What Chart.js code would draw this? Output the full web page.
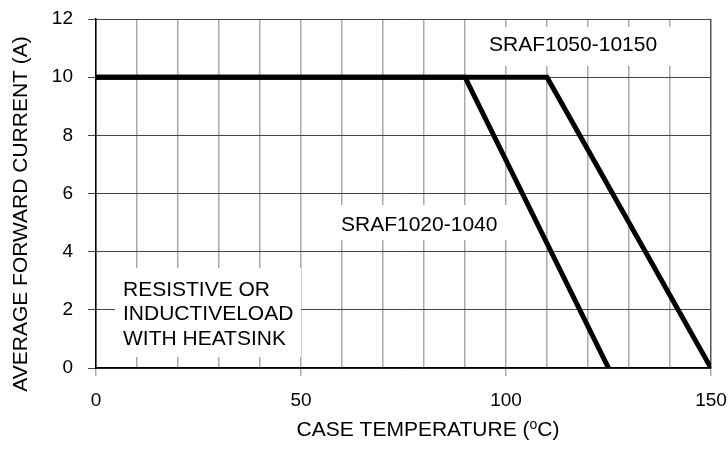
<!DOCTYPE html>
<html>
<head>
<meta charset="utf-8">
<script src="https://cdn.jsdelivr.net/npm/chart.js@4/dist/chart.umd.min.js"></script>
<style>
  html, body { margin: 0; padding: 0; background: #fff; }
  #wrap { width: 728px; height: 452px; position: relative; }
</style>
</head>
<body>
<div id="wrap"><canvas id="derating"></canvas></div>
<script>
// derating curves
const tempLow = [0, 90, 125];      // SRAF1020-1040, case temp (C)
const currLow = [10, 10, 0];       // average forward current (A)
const tempHigh = [0, 110, 150];    // SRAF1050-10150
const currHigh = [10, 10, 0];

const xTickLabels = [0, 50, 100, 150];
const yTickLabels = [0, 2, 4, 6, 8, 10, 12];

const seriesNames = ['SRAF1020-1040', 'SRAF1050-10150'];
const noteLines = ['RESISTIVE OR', 'INDUCTIVELOAD', 'WITH HEATSINK'];

const FONT = '"Liberation Sans", Arial, sans-serif';

function toPoints(xs, ys) {
    return xs.map((x, i) => ({ x: x, y: ys[i] }));
}

// keep the plot box where the original sits; labels may overhang
function noOverhang(s) {
    s.paddingLeft = 0;
    s.paddingRight = 0;
    s.paddingTop = 0;
    s.paddingBottom = 0;
}

// white boxed text labels drawn over the grid, under the curves
const notesPlugin = {
    id: 'notes',
    beforeDatasetsDraw(chart) {
        const ctx = chart.ctx;
        ctx.save();
        ctx.fillStyle = '#fff';
        ctx.fillRect(480, 27, 200, 39);
        ctx.fillRect(335, 205, 176, 35);
        ctx.fillRect(115, 268, 186, 89);

        ctx.fillStyle = '#000';
        ctx.font = '21px ' + FONT;
        ctx.textBaseline = 'middle';
        ctx.textAlign = 'left';
        ctx.fillText(seriesNames[1], 489, 45);
        ctx.fillText(seriesNames[0], 341, 225);
        noteLines.forEach((t, i) => ctx.fillText(t, 123, 290 + i * 24.5));
        ctx.restore();
    },
    afterDraw(chart) {
        const ctx = chart.ctx;
        ctx.save();
        ctx.fillStyle = '#000';
        ctx.textBaseline = 'middle';
        // x axis title with superscript o
        const a = 'CASE TEMPERATURE (';
        const b = 'o';
        const c = 'C)';
        ctx.font = '21px ' + FONT;
        const wa = ctx.measureText(a).width;
        const wc = ctx.measureText(c).width;
        ctx.font = '14px ' + FONT;
        const wb = ctx.measureText(b).width;
        let x = 428 - (wa + wb + wc) / 2;
        ctx.textAlign = 'left';
        ctx.font = '21px ' + FONT;
        ctx.fillText(a, x, 430);
        ctx.font = '14px ' + FONT;
        ctx.fillText(b, x + wa, 425);
        ctx.font = '21px ' + FONT;
        ctx.fillText(c, x + wa + wb, 430);

        // y axis title
        ctx.translate(21, 214);
        ctx.rotate(-Math.PI / 2);
        ctx.textAlign = 'center';
        ctx.fillText('AVERAGE FORWARD CURRENT (A)', 0, 0);
        ctx.restore();
    }
};

const ctx = document.getElementById('derating').getContext('2d');
new Chart(ctx, {
    type: 'line',
    data: {
        datasets: [
            {
                label: seriesNames[0],
                data: toPoints(tempLow, currLow),
                borderColor: '#000',
                borderWidth: 5,
                borderCapStyle: 'round',
                pointRadius: 0,
                tension: 0
            },
            {
                label: seriesNames[1],
                data: toPoints(tempHigh, currHigh),
                borderColor: '#000',
                borderWidth: 5,
                borderCapStyle: 'round',
                pointRadius: 0,
                tension: 0
            }
        ]
    },
    options: {
        responsive: true,
        maintainAspectRatio: false,
        animation: false,
        layout: { padding: { top: 19, right: 17, left: 0, bottom: 0 } },
        plugins: {
            legend: { display: false },
            tooltip: { enabled: false }
        },
        scales: {
            x: {
                type: 'linear',
                min: 0,
                max: 150,
                afterFit: (s) => { s.height = 84; noOverhang(s); },
                border: { color: '#000', width: 1.5 },
                grid: {
                    color: (c) => (c.tick && c.tick.value === 150) ? '#555' : '#aaa',
                    lineWidth: 1.5,
                    tickLength: 8,
                    tickColor: (c) => (c.tick && c.tick.value % 50 === 0) ? '#aaa' : 'rgba(0,0,0,0)'
                },
                ticks: {
                    stepSize: 10,
                    autoSkip: false,
                    maxRotation: 0,
                    padding: 13,
                    color: '#000',
                    font: { family: FONT, size: 19 },
                    callback: (v) => xTickLabels.includes(v) ? String(v) : ''
                }
            },
            y: {
                min: 0,
                max: 12,
                afterFit: (s) => { s.width = 96; noOverhang(s); },
                border: { color: '#000', width: 1.5 },
                grid: {
                    color: '#444',
                    lineWidth: 1,
                    tickLength: 8,
                    tickColor: '#444'
                },
                ticks: {
                    stepSize: 2,
                    padding: 15,
                    color: '#000',
                    font: { family: FONT, size: 19 },
                    callback: (v) => yTickLabels.includes(v) ? String(v) : ''
                }
            }
        }
    },
    plugins: [notesPlugin]
});
</script>
</body>
</html>
